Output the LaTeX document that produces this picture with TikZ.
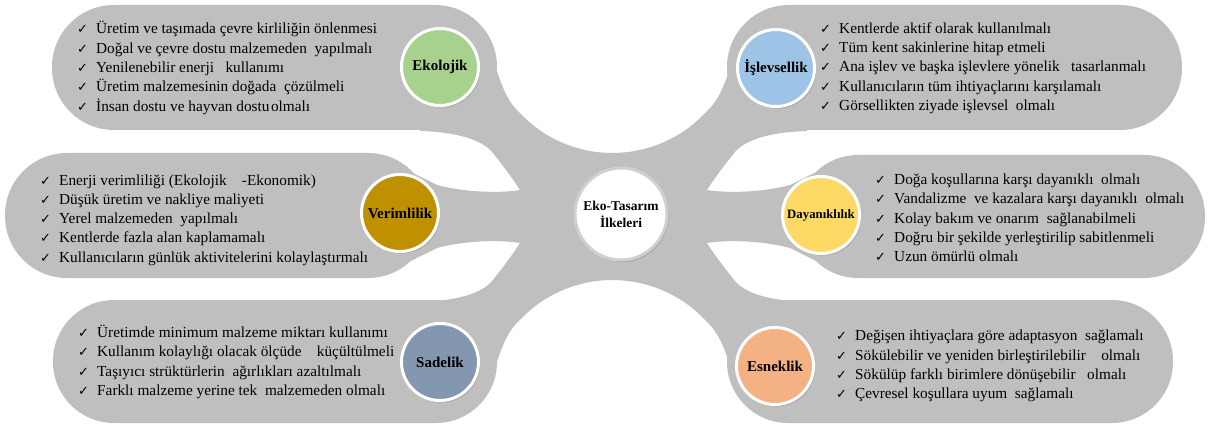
\documentclass[tikz,border=0pt]{standalone}
\usepackage{fontspec}
\setmainfont{Liberation Serif}
\newfontfamily\dejavu{DejaVu Sans}
\usetikzlibrary{shadows}
\definecolor{blobgray}{RGB}{191,191,191}
\definecolor{cgreen}{RGB}{169,209,142}
\definecolor{cblue}{RGB}{157,195,230}
\definecolor{cgold}{RGB}{191,144,0}
\definecolor{cyellow}{RGB}{255,217,102}
\definecolor{cslate}{RGB}{132,151,176}
\definecolor{corange}{RGB}{244,177,131}
\definecolor{ringgray}{RGB}{208,208,208}
\newcommand{\ck}{\makebox[19pt][l]{\dejavu\fontsize{13}{13}\selectfont ✓}}
\begin{document}
\begin{tikzpicture}[x=1pt,y=-1pt,
  blobfill/.style={fill=blobgray},
  badge/.style={circle, fill=#1, draw=white, line width=3pt, minimum size=77pt, inner sep=0pt,
    font=\fontsize{15}{18}\selectfont\bfseries,
    drop shadow={opacity=0.45, shadow xshift=1.5pt, shadow yshift=-2pt}},
  hub/.style={circle, fill=white, draw=ringgray, line width=3pt, minimum size=92pt, inner sep=0pt,
    align=center, font=\fontsize{13.5}{17}\selectfont\bfseries,
    drop shadow={opacity=0.45, shadow xshift=1.5pt, shadow yshift=-2pt}},
  list/.style={anchor=west, align=left, inner sep=0pt, font=\fontsize{15.3}{19.3}\selectfont}]
\useasboundingbox (0,0) rectangle (1210,425);

% capsules
\fill[blobfill, rounded corners=62pt] (52,5) rectangle (497,130);
\fill[blobfill, rounded corners=62pt] (727,5) rectangle (1182,130);
\fill[blobfill, rounded corners=62pt] (5,153) rectangle (430,278);
\fill[blobfill, rounded corners=61pt] (797,155) rectangle (1205,278);
\fill[blobfill, rounded corners=61pt] (53,300) rectangle (497,423);
\fill[blobfill, rounded corners=61pt] (727,300) rectangle (1173,423);

% central body with branches
\fill[blobfill] (470,40) -- (490,50)
 .. controls (500,80) and (505,100) .. (520,113)
 .. controls (545,140) and (580,153) .. (612,153)
 .. controls (645,153) and (680,140) .. (705,113)
 .. controls (720,100) and (727,80) .. (735,50)
 -- (760,40) -- (830,100) -- (807,125) -- (807,131)
 .. controls (770,132) and (745,140) .. (735,152)
 .. controls (722,168) and (712,182) .. (707,190)
 .. controls (725,193) and (760,193) .. (790,185)
 .. controls (820,170) and (845,157) .. (870,155)
 -- (900,200) -- (900,233) -- (870,278)
 .. controls (845,276) and (820,263) .. (790,248)
 .. controls (760,240) and (725,240) .. (707,243)
 .. controls (712,251) and (722,265) .. (735,281)
 .. controls (745,293) and (770,301) .. (807,302)
 -- (807,308) -- (830,333) -- (760,393) -- (735,383)
 .. controls (727,353) and (720,333) .. (705,320)
 .. controls (680,293) and (645,280) .. (612,280)
 .. controls (580,280) and (545,293) .. (520,320)
 .. controls (505,333) and (500,353) .. (490,383)
 -- (470,393) -- (400,333) -- (420,308) -- (420,302)
 .. controls (457,301) and (482,293) .. (492,281)
 .. controls (505,265) and (515,251) .. (520,243)
 .. controls (502,240) and (467,240) .. (437,248)
 .. controls (407,263) and (382,276) .. (357,278)
 -- (330,233) -- (330,200) -- (357,155)
 .. controls (382,157) and (407,170) .. (437,185)
 .. controls (467,193) and (502,193) .. (520,190)
 .. controls (515,182) and (505,168) .. (492,152)
 .. controls (482,140) and (457,132) .. (420,131)
 -- (420,125) -- (430,100) -- cycle;

% badges
\node[badge=cgreen] (eko) at (440,67) {Ekolojik};
\node[badge=cblue] (isl) at (776,68) {İşlevsellik};
\node[badge=cgold] (ver) at (400,213) {Verimlilik};
\node[badge=cyellow, font=\fontsize{12.8}{15}\selectfont\bfseries] (day) at (821,215) {Dayanıklılık};
\node[badge=cslate] (sad) at (440,362) {Sadelik};
\node[badge=corange] (esn) at (775,366) {Esneklik};
\node[hub] (ctr) at (621,214) {Eko-Tasarım\\İlkeleri};

% lists
\node[list] (ekoL) at (77,68) {\ck Üretim ve taşımada çevre kirliliğin önlenmesi\\
\ck Doğal ve çevre dostu malzemeden~ yapılmalı\\
\ck Yenilenebilir enerji~~ kullanımı\\
\ck Üretim malzemesinin doğada~ çözülmeli\\
\ck İnsan dostu ve hayvan dostu\hspace{1.5pt}olmalı};

\node[list] (islL) at (820,68) {\ck Kentlerde aktif olarak kullanılmalı\\
\ck Tüm kent sakinlerine hitap etmeli\\
\ck Ana işlev ve başka işlevlere yönelik~~ tasarlanmalı\\
\ck Kullanıcıların tüm ihtiyaçlarını karşılamalı\\
\ck Görsellikten ziyade işlevsel~ olmalı};

\node[list] (verL) at (40,220) {\ck Enerji verimliliği (Ekolojik~~~ -Ekonomik)\\
\ck Düşük üretim ve nakliye maliyeti\\
\ck Yerel malzemeden~ yapılmalı\\
\ck Kentlerde fazla alan kaplamamalı\\
\ck Kullanıcıların günlük aktivitelerini kolaylaştırmalı};

\node[list] (dayL) at (875,218) {\ck Doğa koşullarına karşı dayanıklı~ olmalı\\
\ck Vandalizme~ ve kazalara karşı dayanıklı~ olmalı\\
\ck Kolay bakım ve onarım~ sağlanabilmeli\\
\ck Doğru bir şekilde yerleştirilip sabitlenmeli\\
\ck Uzun ömürlü olmalı};

\node[list] (sadL) at (78,362) {\ck Üretimde minimum malzeme miktarı kullanımı\\
\ck Kullanım kolaylığı olacak ölçüde~~~ küçültülmeli\\
\ck Taşıyıcı strüktürlerin~ ağırlıkları azaltılmalı\\
\ck Farklı malzeme yerine tek~ malzemeden olmalı};

\node[list] (esnL) at (836,366) {\ck Değişen ihtiyaçlara göre adaptasyon~ sağlamalı\\
\ck Sökülebilir ve yeniden birleştirilebilir~~~ olmalı\\
\ck Sökülüp farklı birimlere dönüşebilir~~ olmalı\\
\ck Çevresel koşullara uyum~ sağlamalı};
\end{tikzpicture}
\end{document}
